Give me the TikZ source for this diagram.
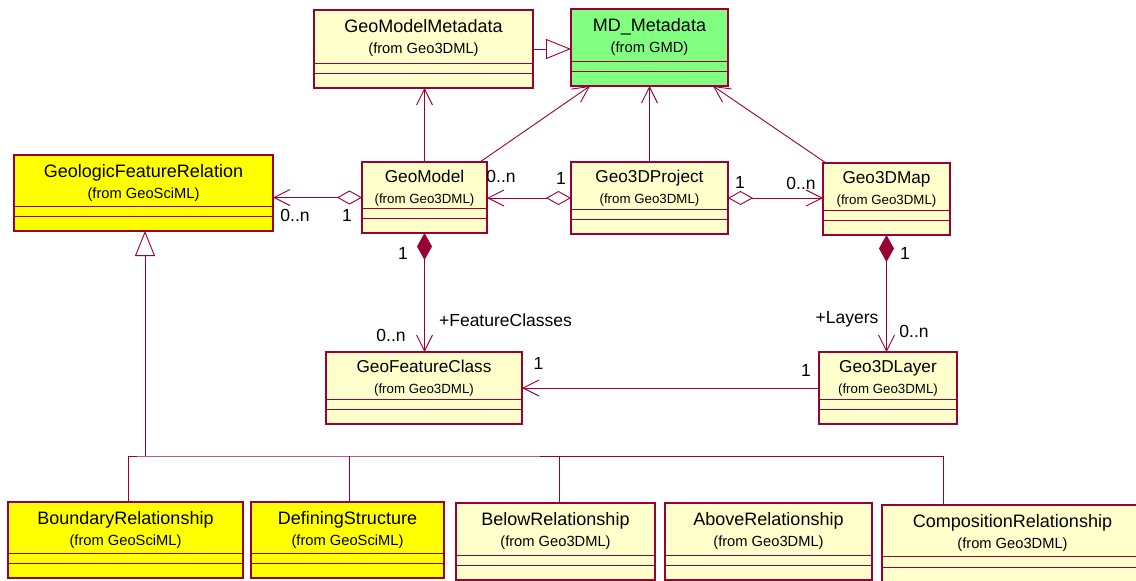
\documentclass[tikz,border=0pt]{standalone}
\usepackage{fontspec}
\setmainfont{Liberation Sans}
\usetikzlibrary{arrows.meta}

\definecolor{rosered}{RGB}{153,0,51}
\definecolor{paleyellow}{RGB}{255,255,204}
\definecolor{brightyellow}{RGB}{255,255,0}
\definecolor{mdgreen}{RGB}{128,255,128}

\tikzset{
  classbox/.style={draw=rosered, line width=1.1pt, rectangle, inner sep=0pt, outer sep=0pt},
  pale/.style={fill=paleyellow},
  gsml/.style={fill=brightyellow},
  gmd/.style={fill=mdgreen},
  rule/.style={draw=rosered, line width=0.9pt},
  ttlA/.style={font=\fontsize{18}{20}\selectfont, anchor=base, yshift=-22.8pt, inner sep=0pt},
  subA/.style={font=\fontsize{14.7}{16}\selectfont, anchor=base, yshift=-43.5pt, inner sep=0pt},
  ttlB/.style={font=\fontsize{17.2}{19}\selectfont, anchor=base, yshift=-20.3pt, inner sep=0pt},
  subB/.style={font=\fontsize{13.3}{15}\selectfont, anchor=base, yshift=-41pt, inner sep=0pt},
  lbl/.style={font=\fontsize{17.5}{19}\selectfont, inner sep=0pt, text height=12.5pt, text depth=0pt},
  conn/.style={draw=rosered, line width=0.9pt},
  openv/.tip={Straight Barb[length=16pt,width=16pt]},
  aggr/.tip={Diamond[fill=white,length=25pt,width=14pt]},
  compo/.tip={Diamond[fill=rosered,length=27pt,width=15pt]},
  genz/.tip={Triangle[fill=white,length=25pt,width=20pt]},
}

% \umlclass{name}{fill style}{x1}{y1}{x2}{y2}{title}{package}{text variant}
\newcommand\umlclass[9]{%
  \pgfmathsetmacro\ucx{(#3+#5)/2}%
  \pgfmathsetmacro\ucy{(#4+#6)/2}%
  \pgfmathsetmacro\ubw{#5-#3}%
  \pgfmathsetmacro\ubh{#6-#4}%
  \node[classbox, #2, minimum width=\ubw pt, minimum height=\ubh pt] (#1) at (\ucx,\ucy) {};
  \draw[rule] ([yshift=25pt]#1.south west) -- ([yshift=25pt]#1.south east);
  \draw[rule] ([yshift=14.5pt]#1.south west) -- ([yshift=14.5pt]#1.south east);
  \node[ttl#9] (#1-title) at (#1.north) {#7};
  \node[sub#9] (#1-from) at (#1.north) {#8};
}

\begin{document}
\begin{tikzpicture}[x=1pt, y=-1pt]
  \useasboundingbox (0,0) rectangle (1136,581);

  % classes
  \umlclass{gmm}{pale}{314}{10}{533}{88}{GeoModelMetadata}{(from Geo3DML)}{A}
  \umlclass{md}{gmd}{571}{9}{728}{86}{MD\_Metadata}{(from GMD)}{A}
  \umlclass{gfr}{gsml}{14}{155}{273}{231}{GeologicFeatureRelation}{(from GeoSciML)}{A}
  \umlclass{gm}{pale}{362}{162}{487}{233}{GeoModel}{(from Geo3DML)}{B}
  \umlclass{gp}{pale}{571}{162}{728}{234}{Geo3DProject}{(from Geo3DML)}{B}
  \umlclass{map}{pale}{823}{163}{950}{235}{Geo3DMap}{(from Geo3DML)}{B}
  \umlclass{gfc}{pale}{326}{352}{522}{424}{GeoFeatureClass}{(from Geo3DML)}{B}
  \umlclass{layer}{pale}{819}{352}{957}{424}{Geo3DLayer}{(from Geo3DML)}{B}
  \umlclass{br}{gsml}{8}{502}{243}{578}{BoundaryRelationship}{(from GeoSciML)}{A}
  \umlclass{ds}{gsml}{251}{502}{444}{578}{DefiningStructure}{(from GeoSciML)}{A}
  \umlclass{below}{pale}{456}{503}{655}{580}{BelowRelationship}{(from Geo3DML)}{A}
  \umlclass{above}{pale}{665}{503}{872}{580}{AboveRelationship}{(from Geo3DML)}{A}
  \umlclass{comp}{pale}{882}{505}{1143}{581.5}{CompositionRelationship}{(from Geo3DML)}{A}

  % metadata links
  \draw[conn, -genz] (gmm.east |- 0,49) -- (md.west |- 0,49);
  \draw[conn, -openv] (gm.north) -- (gm.north |- gmm.south);
  \draw[conn, -openv] ([xshift=55.5pt]gm.north) -- ([xshift=-59.5pt]md.south);
  \draw[conn, -openv] (gp.north) -- (gp.north |- md.south);
  \draw[conn, -openv] ([xshift=-60.5pt]map.north) -- ([xshift=63.5pt]md.south);

  % aggregations
  \draw[conn, aggr-openv] (gm.west) -- (gm.west -| gfr.east);
  \draw[conn, aggr-openv] (gp.west) -- (gp.west -| gm.east);
  \draw[conn, aggr-openv] (gp.east) -- (gp.east -| map.west);

  % compositions
  \draw[conn, compo-openv] (gm.south) -- (gm.south |- gfc.north);
  \draw[conn, compo-openv] (map.south) -- (map.south |- layer.north);

  % layer to feature class
  \draw[conn, -openv] (layer.west) -- (layer.west -| gfc.east);

  % generalisation tree of relations
  \coordinate (bus) at (145,456);
  \coordinate (dropBR) at ([xshift=2.5pt]br.north);
  \coordinate (dropDS) at ([xshift=1.5pt]ds.north);
  \coordinate (dropBL) at ([xshift=3.5pt]below.north);
  \coordinate (dropCR) at ([xshift=-69.5pt]comp.north);
  \draw[conn, genz-] (gfr.south -| bus) -- (bus);
  \draw[conn] (dropBR) |- (bus) -| (dropCR);
  \draw[conn] (dropDS) -- (dropDS |- bus);
  \draw[conn] (dropBL) -- (dropBL |- bus);

  % multiplicities and role names
  \node[lbl] (m-gfr) at (295,215) {0..n};
  \node[lbl] (m-gm1) at (347,215) {1};
  \node[lbl] (m-gm2) at (501,176) {0..n};
  \node[lbl] (m-gp1) at (561,178) {1};
  \node[lbl] (m-gp2) at (740,182) {1};
  \node[lbl] (m-map) at (801,183) {0..n};
  \node[lbl] (m-gm3) at (403,253) {1};
  \node[lbl] (r-fc) at (505.5,320) {+FeatureClasses};
  \node[lbl] (m-gfc) at (391,335) {0..n};
  \node[lbl] (m-gfc2) at (538.5,363) {1};
  \node[lbl] (m-lay1) at (806,370) {1};
  \node[lbl] (m-map2) at (905,253) {1};
  \node[lbl] (r-lay) at (847,317) {+Layers};
  \node[lbl] (m-lay2) at (914,331) {0..n};
\end{tikzpicture}
\end{document}
